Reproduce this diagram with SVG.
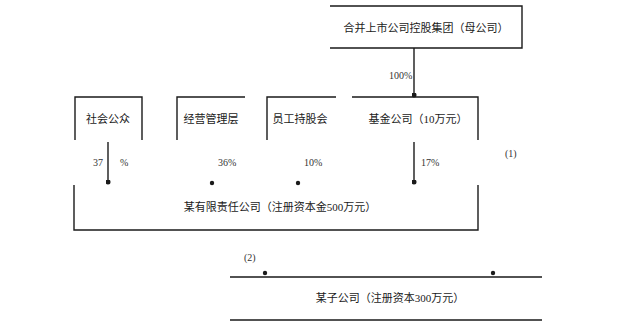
<svg xmlns="http://www.w3.org/2000/svg" width="622" height="329" viewBox="0 0 622 329">
<style>
.ln{stroke:#1a1a1a;stroke-width:1.4;fill:none}
.t{font-family:"Liberation Serif","Noto Sans CJK SC",serif;font-size:11px;fill:#1a1a1a}
.p{font-family:"Liberation Serif","Noto Sans CJK SC",serif;font-size:10px;fill:#333}
</style>
<defs>
<marker id="dot" viewBox="0 0 6 6" refX="3" refY="3" markerWidth="5" markerHeight="5" markerUnits="userSpaceOnUse"><circle cx="3" cy="3" r="3" fill="#1a1a1a"/></marker>
</defs>
<rect width="622" height="329" fill="#fff"/>
<g id="top">
<path class="ln" d="M330 6H522V48H330"/>
<text class="t" x="426" y="32" text-anchor="middle">合并上市公司控股集团（母公司）</text>
</g>
<g id="n1">
<path class="ln" d="M75 140V97H142V140"/>
<text class="t" x="108" y="123" text-anchor="middle">社会公众</text>
</g>
<g id="n2">
<path class="ln" d="M177 140V97H245"/>
<text class="t" x="211" y="123" text-anchor="middle">经营管理层</text>
</g>
<g id="n3">
<path class="ln" d="M267 140V97H336"/>
<text class="t" x="300" y="123" text-anchor="middle">员工持股会</text>
</g>
<g id="n4">
<path class="ln" d="M352 97H478V140"/>
<text class="t" x="418" y="123" text-anchor="middle">基金公司（10万元）</text>
</g>
<g id="bottom">
<path class="ln" d="M74 185V230H478V185"/>
<text class="t" x="280" y="211" text-anchor="middle">某有限责任公司（注册资本金500万元）</text>
</g>
<g id="sub">
<path class="ln" d="M230 277H542M230 320H542"/>
<text class="t" x="390" y="302" text-anchor="middle">某子公司（注册资本300万元）</text>
</g>
<g id="connectors">
<line class="ln" x1="414" y1="48" x2="414" y2="95" marker-end="url(#dot)"/>
<line class="ln" x1="108" y1="142" x2="108" y2="182" marker-end="url(#dot)"/>
<line class="ln" x1="414" y1="142" x2="414" y2="182" marker-end="url(#dot)"/>
<circle cx="212" cy="183" r="2.2" fill="#1a1a1a"/>
<circle cx="298" cy="183" r="2.2" fill="#1a1a1a"/>
<circle cx="265" cy="273" r="2.2" fill="#1a1a1a"/>
<circle cx="493" cy="273" r="2.2" fill="#1a1a1a"/>
<text class="p" x="389" y="79">100%</text>
<text class="p" x="93" y="166">37</text>
<text class="p" x="120" y="166">%</text>
<text class="p" x="218" y="166">36%</text>
<text class="p" x="304" y="166">10%</text>
<text class="p" x="421" y="166">17%</text>
<text class="p" x="505" y="157">(1)</text>
<text class="p" x="244" y="261">(2)</text>
</g>
</svg>
